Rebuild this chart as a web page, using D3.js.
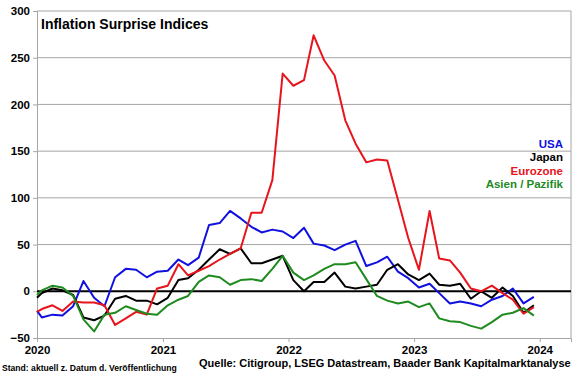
<!DOCTYPE html>
<html>
<head>
<meta charset="utf-8">
<script src="https://cdn.jsdelivr.net/npm/d3@7"></script>
<style>
  body { margin: 0; background: #fff; }
  svg { display: block; font-family: Arial, "Liberation Sans", sans-serif; font-weight: bold; }
  .axis path, .axis line { stroke: #a6a6a6; }
  .axis text { fill: #000; font-size: 11.5px; font-weight: bold; }
</style>
</head>
<body>
<div id="chart"></div>
<script>
// data: first point at start of Jan 2020, then monthly values
const dates = ["2020-01-01",
  "2020-01-15","2020-02-15","2020-03-15","2020-04-15","2020-05-15","2020-06-15",
  "2020-07-15","2020-08-15","2020-09-15","2020-10-15","2020-11-15","2020-12-15",
  "2021-01-15","2021-02-15","2021-03-15","2021-04-15","2021-05-15","2021-06-15",
  "2021-07-15","2021-08-15","2021-09-15","2021-10-15","2021-11-15","2021-12-15",
  "2022-01-15","2022-02-15","2022-03-15","2022-04-15","2022-05-15","2022-06-15",
  "2022-07-15","2022-08-15","2022-09-15","2022-10-15","2022-11-15","2022-12-15",
  "2023-01-15","2023-02-15","2023-03-15","2023-04-15","2023-05-15","2023-06-15",
  "2023-07-15","2023-08-15","2023-09-15","2023-10-15","2023-11-15","2023-12-15"];

const usa = [-21,
  -28, -25, -26, -16, 11, -7, -16, 15, 24, 23, 15, 21,
  22, 34, 28, 36, 71, 73, 86, 78, 69, 63, 66, 64,
  57, 68, 51, 49, 44, 50, 54, 27, 31, 37, 21, 14,
  4, 8, -2, -13, -11, -13, -16, -9, -5, 3, -13, -6];

const japan = [-7,
  -2, 3, 1, -4, -28, -31, -26, -8, -5, -10, -10, -14,
  -7, 12, 14, 23, 34, 45, 40, 46, 30, 30, 34, 38,
  12, 0, 10, 10, 20, 5, 3, 5, 7, 23, 29, 18,
  12, 19, 7, 6, 8, -8, 0, -7, 4, -5, -23, -15];

const eurozone = [-22,
  -19, -15, -21, -11, -12, -12, -15, -36, -29, -22, -25, 3,
  6, 29, 17, 22, 27, 34, 40, 46, 84, 84, 119, 233,
  220, 226, 274, 247, 231, 183, 158, 138, 141, 140, 98, 57,
  23, 86, 35, 33, 20, 3, 0, 6, -2, -9, -24, -17];

const asiaPacific = [-4,
  1, 6, 4, -5, -30, -43, -25, -23, -16, -20, -24, -25,
  -15, -9, -5, 10, 17, 15, 7, 12, 13, 11, 24, 38,
  20, 12, 17, 24, 29, 29, 31, 13, -5, -10, -13, -11,
  -17, -13, -29, -32, -33, -37, -40, -33, -25, -23, -18, -26];

const seriesNames = ["USA", "Japan", "Eurozone", "Asien / Pazifik"];
const seriesValues = [usa, japan, eurozone, asiaPacific];
const seriesColors = ["#1010e0", "#000000", "#e8141c", "#1f8a1f"];
const yTicks = [-50, 0, 50, 100, 150, 200, 250, 300];

const W = 580, H = 375;
const margin = {top: 11, left: 37, right: 9, bottom: 37};
const width = W - margin.left - margin.right,
      height = H - margin.top - margin.bottom;

const parse = d3.timeParse("%Y-%m-%d");
const dateObjs = dates.map(parse);

const svg = d3.select("#chart").append("svg")
    .attr("width", W)
    .attr("height", H);

const gr = svg.append("g")
    .attr("transform", "translate(" + margin.left + "," + margin.top + ")");

const xScale = d3.scaleTime()
    .domain([parse("2020-01-01"), parse("2024-04-01")])
    .range([0, width]);

const yScale = d3.scaleLinear()
    .domain([-50, 300])
    .range([height, 0]);

// grid lines
gr.append("g")
    .selectAll("line")
    .data(yTicks.filter(d => d !== 0 && d !== -50))
    .join("line")
    .attr("x1", 0).attr("x2", width)
    .attr("y1", d => yScale(d)).attr("y2", d => yScale(d))
    .attr("stroke", "#a6a6a6")
    .attr("stroke-width", 1);

// right frame
gr.append("line")
    .attr("x1", width).attr("x2", width)
    .attr("y1", 0).attr("y2", height)
    .attr("stroke", "#a6a6a6");

// axes
const yAxis = d3.axisLeft(yScale).tickValues(yTicks).tickSize(4).tickPadding(3);
gr.append("g").attr("class", "axis y-axis").call(yAxis);

const xAxis = d3.axisBottom(xScale)
    .ticks(d3.timeYear)
    .tickFormat(d3.timeFormat("%Y"))
    .tickSize(4).tickPadding(4);
gr.append("g").attr("class", "axis x-axis")
    .attr("transform", "translate(0," + height + ")")
    .call(xAxis);

gr.selectAll(".axis .domain").attr("stroke", "#a6a6a6");

// zero line
gr.append("line")
    .attr("x1", 0).attr("x2", width)
    .attr("y1", yScale(0)).attr("y2", yScale(0))
    .attr("stroke", "#000")
    .attr("stroke-width", 2);

// series lines
const line = d3.line()
    .x((d, i) => xScale(dateObjs[i]))
    .y(d => yScale(d));

gr.selectAll(".series")
    .data(seriesValues)
    .join("path")
    .attr("class", "series")
    .attr("d", line)
    .attr("fill", "none")
    .attr("stroke", (d, i) => seriesColors[i])
    .attr("stroke-width", 2)
    .attr("stroke-linejoin", "round");

// title
svg.append("text")
    .attr("x", 41).attr("y", 28.5)
    .attr("font-size", "14px")
    .text("Inflation Surprise Indices");

// legend
svg.append("g")
    .selectAll("text")
    .data(seriesNames)
    .join("text")
    .attr("x", 563)
    .attr("y", (d, i) => 147.5 + i * 13.6)
    .attr("text-anchor", "end")
    .attr("font-size", "11.5px")
    .attr("fill", (d, i) => seriesColors[i])
    .text(d => d);

// footer
svg.append("text")
    .attr("x", 2).attr("y", 371)
    .attr("font-size", "8.6px")
    .text("Stand: aktuell z. Datum d. Veröffentlichung");

svg.append("text")
    .attr("x", 199).attr("y", 367)
    .attr("font-size", "11px")
    .text("Quelle: Citigroup, LSEG Datastream, Baader Bank Kapitalmarktanalyse");
</script>
</body>
</html>
